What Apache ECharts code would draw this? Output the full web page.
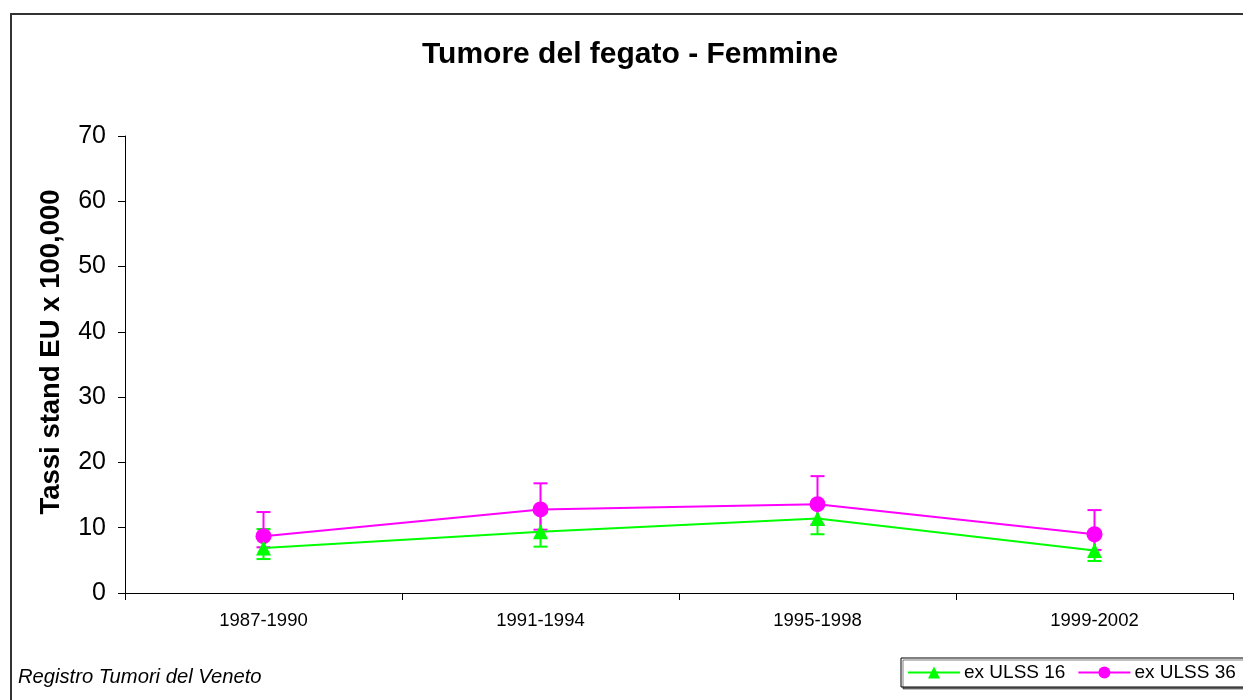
<!DOCTYPE html>
<html>
<head>
<meta charset="utf-8">
<title>Tumore del fegato - Femmine</title>
<script src="https://cdn.jsdelivr.net/npm/echarts@6/dist/echarts.min.js"></script>
<style>
  html, body { margin: 0; padding: 0; background: #fff; }
  #chart { width: 1243px; height: 700px; }
</style>
</head>
<body>
<div id="chart"></div>
<script>
// periodi
var periods = ['1987-1990', '1991-1994', '1995-1998', '1999-2002'];

// ex ULSS 16: tasso e intervallo di confidenza
var ulss16 = [6.9, 9.4, 11.4, 6.5];
var ulss16Low = [5.2, 7.1, 9.0, 4.9];
var ulss16High = [9.8, 12.6, 13.4, 8.8];

// ex ULSS 36
var ulss36 = [8.7, 12.8, 13.6, 9.0];
var ulss36Low = [7.0, 9.7, 10.5, 6.6];
var ulss36High = [12.4, 16.8, 17.9, 12.7];

var yTicks = [0, 10, 20, 30, 40, 50, 60, 70];

var font = 'Liberation Sans, Arial, sans-serif';

function errData(low, high) {
  return low.map(function (v, i) { return [i, v, high[i]]; });
}

// barre d'errore (disegnate sotto le linee)
function errSeries(name, color, low, high) {
  return {
    name: name + ' err',
    type: 'custom',
    z: 1,
    silent: true,
    data: errData(low, high),
    renderItem: function (params, api) {
      var lo = api.coord([api.value(0), api.value(1)]);
      var hi = api.coord([api.value(0), api.value(2)]);
      var w = 7;
      var style = { stroke: color, lineWidth: 2 };
      return {
        type: 'group',
        children: [
          { type: 'line', shape: { x1: lo[0], y1: lo[1], x2: hi[0], y2: hi[1] }, style: style },
          { type: 'line', shape: { x1: lo[0] - w, y1: lo[1], x2: lo[0] + w, y2: lo[1] }, style: style },
          { type: 'line', shape: { x1: hi[0] - w, y1: hi[1], x2: hi[0] + w, y2: hi[1] }, style: style }
        ]
      };
    }
  };
}

var chart = echarts.init(document.getElementById('chart'));
chart.setOption({
  backgroundColor: '#fff',
  animation: false,
  textStyle: { fontFamily: font },
  title: {
    text: 'Tumore del fegato - Femmine',
    left: 422,
    top: 40,
    padding: 0,
    textStyle: { fontFamily: font, fontSize: 30, fontWeight: 'bold', color: '#000' }
  },
  grid: { left: 125, right: 10, top: 136, bottom: 107, containLabel: false },
  xAxis: {
    type: 'category',
    data: periods,
    boundaryGap: true,
    axisLine: { lineStyle: { color: '#000', width: 1 } },
    axisTick: { show: true, length: 7, lineStyle: { color: '#000' } },
    axisLabel: { color: '#000', fontSize: 18.5, margin: 18, fontFamily: font },
    splitLine: { show: false }
  },
  yAxis: {
    type: 'value',
    min: yTicks[0],
    max: yTicks[yTicks.length - 1],
    interval: 10,
    axisLine: { show: true, lineStyle: { color: '#000', width: 1 } },
    axisTick: { show: true, length: 7, lineStyle: { color: '#000' } },
    axisLabel: { color: '#000', fontSize: 25, margin: 19, fontFamily: font },
    splitLine: { show: false }
  },
  legend: {
    orient: 'horizontal',
    left: 901,
    top: 658,
    width: 600,
    padding: [5, 20, 5, 6],
    itemGap: 12,
    itemWidth: 52,
    itemHeight: 15,
    backgroundColor: '#fff',
    borderColor: '#000',
    borderWidth: 1,
    shadowColor: 'rgba(0,0,0,0.5)',
    shadowOffsetX: 2,
    shadowOffsetY: 2,
    borderRadius: 0,
    textStyle: { fontFamily: font, fontSize: 19, color: '#000', padding: [0, 0, 0, -1] },
    data: ['ex ULSS 16', 'ex ULSS 36']
  },
  graphic: [
    {
      type: 'rect',
      shape: { x: 11, y: 14, width: 1300, height: 760 },
      style: { fill: 'none', stroke: '#333', lineWidth: 2 },
      z: -1
    },
    {
      type: 'text',
      x: 51,
      y: 352,
      rotation: Math.PI / 2,
      style: {
        text: 'Tassi stand EU x 100,000',
        font: 'bold 27.5px ' + font,
        fill: '#000',
        align: 'center',
        verticalAlign: 'middle'
      }
    },
    {
      type: 'text',
      left: 18,
      top: 667,
      style: { text: 'Registro Tumori del Veneto', font: 'italic 20.2px ' + font, fill: '#000' }
    }
  ],
  series: [
    errSeries('ex ULSS 16', '#00ff00', ulss16Low, ulss16High),
    errSeries('ex ULSS 36', '#ff00ff', ulss36Low, ulss36High),
    {
      name: 'ex ULSS 36',
      type: 'line',
      z: 2,
      data: ulss36,
      symbol: 'circle',
      symbolSize: 16,
      lineStyle: { color: '#ff00ff', width: 2 },
      itemStyle: { color: '#ff00ff' }
    },
    {
      name: 'ex ULSS 16',
      type: 'line',
      z: 3,
      data: ulss16,
      symbol: 'triangle',
      symbolSize: 15,
      lineStyle: { color: '#00ff00', width: 2 },
      itemStyle: { color: '#00ff00' }
    }
  ]
});
</script>
</body>
</html>
